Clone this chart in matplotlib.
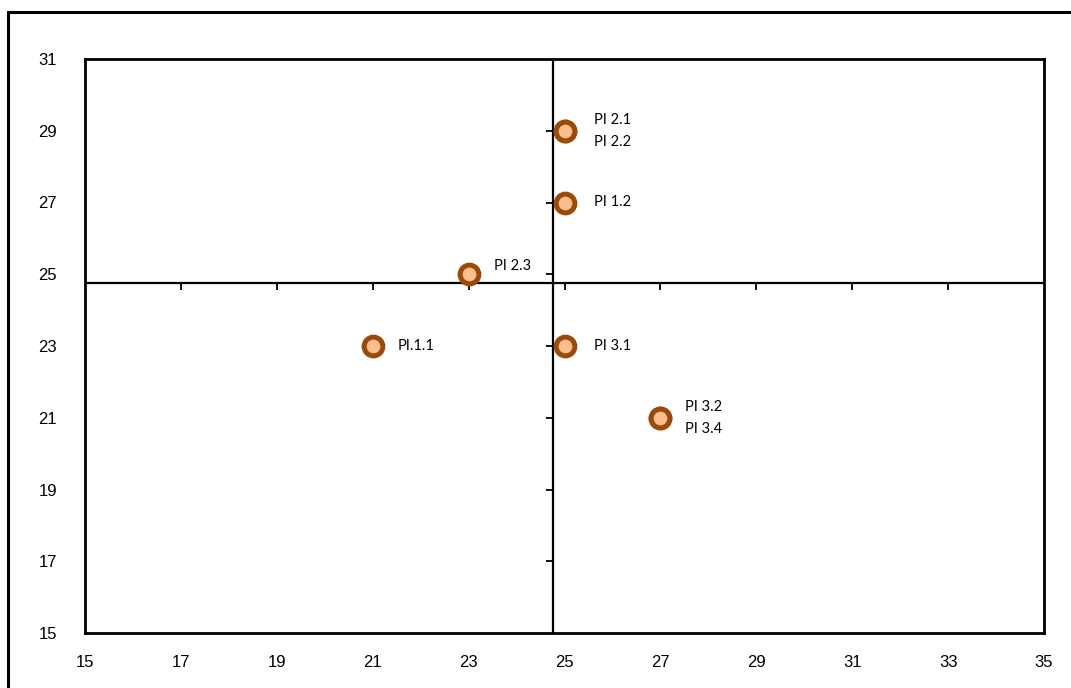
import numpy as np
import matplotlib.pyplot as plt
from matplotlib.patches import Rectangle

# data points (x, y) and their labels
labels = ['PI.1.1', 'PI 1.2', 'PI 2.1', 'PI 2.2', 'PI 2.3', 'PI 3.1', 'PI 3.2', 'PI 3.4']
x_vals = [21, 25, 25, 25, 23, 25, 27, 27]
y_vals = [23, 27, 29, 29, 25, 23, 21, 21]
ticks_x = [15, 17, 19, 21, 23, 25, 27, 29, 31, 33, 35]
ticks_y = [15, 17, 19, 21, 23, 25, 27, 29, 31]

x_mean = np.mean(x_vals)
y_mean = np.mean(y_vals)

fig = plt.figure(figsize=(10.71, 6.88), dpi=100)
ax = fig.add_axes([85 / 1071, 1 - 633 / 688, (1044 - 85) / 1071, (633 - 59) / 688])

# outer chart border
fig.patches.append(Rectangle((8 / 1071, -0.05), 1.1, 1 - 12 / 688 + 0.05,
                             transform=fig.transFigure, fill=False,
                             edgecolor='black', linewidth=2.2, clip_on=False))

ax.set_xlim(15, 35)
ax.set_ylim(15, 31)
ax.set_xticks(ticks_x)
ax.set_yticks(ticks_y)
ax.tick_params(length=0, labelsize=12)
ax.tick_params(axis='x', pad=16)
ax.tick_params(axis='y', pad=20)
for lbl in ax.get_xticklabels() + ax.get_yticklabels():
    lbl.set_fontfamily('Liberation Sans')
for s in ax.spines.values():
    s.set_linewidth(2)

# crosshair at the means
ax.axhline(y_mean, color='black', lw=1.6, zorder=2)
ax.axvline(x_mean, color='black', lw=1.6, zorder=2)
inner_x = [t for t in ticks_x if 15 < t < 35]
inner_y = [t for t in ticks_y if 15 < t < 31]
ax.plot(inner_x, [y_mean] * len(inner_x), ls='none', marker=3, ms=5, mew=1.3, color='black', zorder=2)
ax.plot([x_mean] * len(inner_y), inner_y, ls='none', marker=0, ms=5, mew=1.3, color='black', zorder=2)

# points
ax.plot(x_vals, y_vals, ls='none', marker='o', ms=13.5, mew=3.6,
        markerfacecolor='#FBBF8C', markeredgecolor='#9C4A0A', zorder=3)

# labels (offsets in points)
offsets = {
    'PI.1.1': (18, 0), 'PI 1.2': (21, 0), 'PI 2.1': (21, 8), 'PI 2.2': (21, -8),
    'PI 2.3': (18, 6), 'PI 3.1': (21, 0), 'PI 3.2': (18, 8), 'PI 3.4': (18, -8),
}
for lab, x, y in zip(labels, x_vals, y_vals):
    ax.annotate(lab, (x, y), xytext=offsets[lab], textcoords='offset points',
                ha='left', va='center', fontsize=10.5, family=['Lato', 'DejaVu Sans'])

fig.savefig('out.png', dpi=100)
